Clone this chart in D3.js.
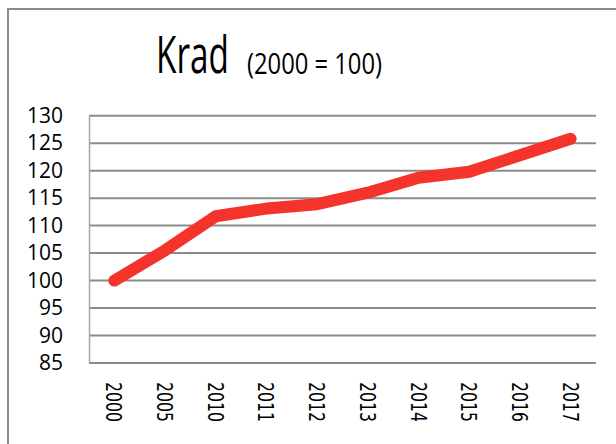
<!DOCTYPE html>
<html>
<head>
<meta charset="utf-8">
<script src="https://cdn.jsdelivr.net/npm/d3@7"></script>
<style>
  body { margin: 0; background: #fff; }
  svg { display: block; }
</style>
</head>
<body>
<div id="chart"></div>
<script>
// data
var years = ["2000", "2005", "2010", "2011", "2012", "2013", "2014", "2015", "2016", "2017"];
var values = [100, 105.5, 111.7, 113.1, 113.9, 116.0, 118.7, 119.8, 122.8, 125.8];
var yTicks = [85, 90, 95, 100, 105, 110, 115, 120, 125, 130];

var svgWidth = 616;
var svgHeight = 444;

var margin = { top: 115.7, right: 20, bottom: 81, left: 89 };
var width = 596 - margin.left;
var height = 363 - margin.top;

var svg = d3.select("#chart")
  .append("svg")
  .attr("width", svgWidth)
  .attr("height", svgHeight);

// outer frame (right and bottom edges fall outside the picture)
svg.append("rect")
  .attr("x", 8)
  .attr("y", 9)
  .attr("width", 640)
  .attr("height", 460)
  .attr("fill", "none")
  .attr("stroke", "#8a8a8a")
  .attr("stroke-width", 2);

// squeeze a text horizontally to a wanted width
function narrowText(x, y, size, target, str) {
  var t = svg.append("text")
    .attr("font-family", "'Open Sans', sans-serif")
    .attr("font-size", size)
    .attr("fill", "#000")
    .text(str);
  var len = t.node().getComputedTextLength();
  t.attr("transform", `translate(${x}, ${y}) scale(${target / len}, 1)`);
  return t;
}

// title
narrowText(156, 73, 51, 73, "Krad");
narrowText(247, 74, 29, 135, "(2000 = 100)");

var chartGroup = svg.append("g")
  .attr("transform", `translate(${margin.left}, ${margin.top})`);

var xScale = d3.scaleBand()
  .domain(years)
  .range([0, width]);

var yScale = d3.scaleLinear()
  .domain([85, 130])
  .range([height, 0]);

// gridlines
chartGroup.selectAll(".grid")
  .data(yTicks)
  .enter()
  .append("line")
  .attr("x1", 0)
  .attr("x2", width)
  .attr("y1", d => yScale(d))
  .attr("y2", d => yScale(d))
  .attr("stroke", "#8c8c8c")
  .attr("stroke-width", 2);

// left axis with labels
var leftAxis = d3.axisLeft(yScale)
  .tickValues(yTicks)
  .tickSize(0)
  .tickPadding(26);

var yAxisG = chartGroup.append("g")
  .call(leftAxis);
yAxisG.select(".domain")
  .attr("stroke", "#a6a6a6")
  .attr("stroke-width", 1.5);
yAxisG.selectAll("text")
  .attr("font-family", "'Open Sans', sans-serif")
  .attr("font-size", 21)
  .attr("fill", "#000");

// bottom axis, labels turned to read downwards
var bottomAxis = d3.axisBottom(xScale)
  .tickSize(0);

var xAxisG = chartGroup.append("g")
  .attr("transform", `translate(0, ${height})`)
  .call(bottomAxis);
xAxisG.select(".domain").remove();
xAxisG.selectAll("text")
  .attr("font-family", "'DejaVu Sans', sans-serif")
  .attr("font-size", 22)
  .attr("fill", "#000")
  .attr("text-anchor", "start")
  .attr("dy", null)
  .attr("y", 0)
  .attr("transform", "translate(-8, 19) rotate(90)")
  .attr("textLength", 40)
  .attr("lengthAdjust", "spacingAndGlyphs");

// the line
var line = d3.line()
  .x((d, i) => xScale(years[i]) + xScale.bandwidth() / 2)
  .y(d => yScale(d));

chartGroup.append("path")
  .datum(values)
  .attr("d", line)
  .attr("fill", "none")
  .attr("stroke", "#f4342b")
  .attr("stroke-width", 12)
  .attr("stroke-linecap", "round")
  .attr("stroke-linejoin", "round");
</script>
</body>
</html>
